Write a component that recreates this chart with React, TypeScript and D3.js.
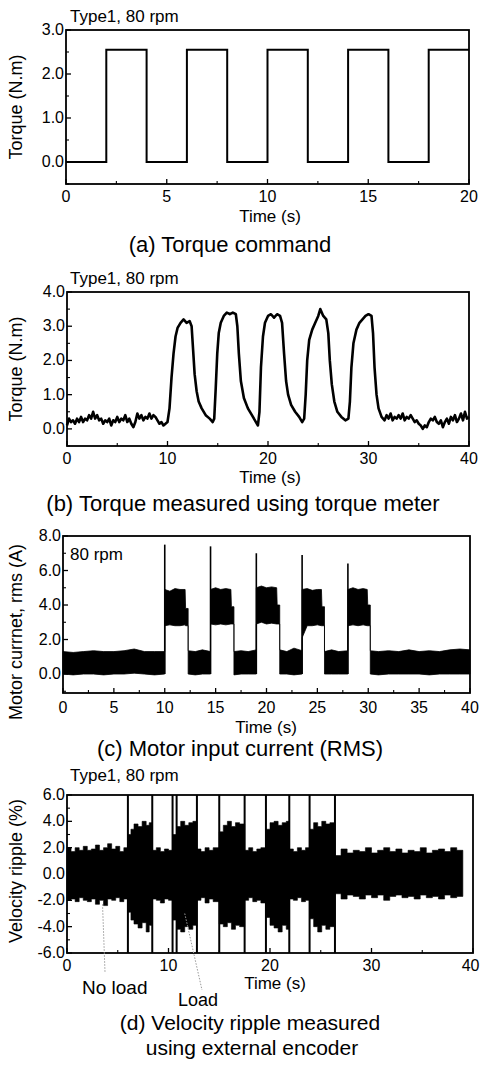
import React from "react";
import * as d3 from "d3";

const FONT = "'Liberation Sans', Arial, Helvetica, sans-serif";

// ---------- Panel (a): torque command ----------
const cmdTime = [0, 2, 4, 6, 8, 10, 12, 14, 16, 18, 20];
const cmdTorque = [0, 2.55, 0, 2.55, 0, 2.55, 0, 2.55, 0, 2.55, 2.55];

// ---------- Panel (b): torque measured ----------
const measTime = [
  0, 0.2, 0.4, 0.6, 0.8, 1.0, 1.2, 1.4, 1.6, 1.8, 2.0, 2.2, 2.4, 2.6, 2.8, 3.0, 3.2, 3.4, 3.6, 3.8, 4.0, 4.2, 4.4, 4.6, 4.8,
  5.0, 5.2, 5.4, 5.6, 5.8, 6.0, 6.2, 6.4, 6.6, 6.8, 7.0, 7.2, 7.4, 7.6, 7.8, 8.0, 8.2, 8.4, 8.6, 8.8, 9.0, 9.2, 9.4, 9.6, 9.8,
  10.0, 10.2, 10.4, 10.6, 10.8, 11.0, 11.3, 11.6, 11.9, 12.2, 12.4, 12.55, 12.7, 12.9, 13.1, 13.4, 13.8, 14.2, 14.5,
  14.65, 14.8, 14.95, 15.1, 15.3, 15.6, 15.9, 16.2, 16.5, 16.8, 16.95, 17.1, 17.3, 17.6, 18.0, 18.4, 18.8, 19.0,
  19.15, 19.3, 19.5, 19.7, 20.0, 20.3, 20.6, 20.9, 21.2, 21.4, 21.6, 21.8, 22.0, 22.3, 22.7, 23.1, 23.4,
  23.6, 23.75, 23.9, 24.1, 24.4, 24.7, 25.0, 25.2, 25.5, 25.8, 26.0, 26.15, 26.35, 26.6, 26.9, 27.3, 27.7,
  28.0, 28.15, 28.3, 28.5, 28.8, 29.1, 29.4, 29.7, 30.0, 30.3, 30.45, 30.6, 30.8, 31.0, 31.3,
  31.6, 31.8, 32.0, 32.2, 32.4, 32.6, 32.8, 33.0, 33.2, 33.4, 33.6, 33.8, 34.0, 34.2, 34.4, 34.6, 34.8, 35.0, 35.2, 35.4,
  35.6, 35.8, 36.0, 36.2, 36.4, 36.6, 36.8, 37.0, 37.2, 37.4, 37.6, 37.8, 38.0, 38.2, 38.4, 38.6, 38.8, 39.0, 39.2, 39.4, 39.6, 39.8, 40.0,
];
const measTorque = [
  0.1, 0.3, 0.2, 0.25, 0.15, 0.3, 0.2, 0.35, 0.2, 0.3, 0.25, 0.4, 0.3, 0.5, 0.3, 0.4, 0.25, 0.3, 0.15, 0.25, 0.2, 0.3, 0.1, 0.25, 0.2,
  0.35, 0.2, 0.3, 0.25, 0.4, 0.2, 0.3, 0.15, 0.05, 0.2, 0.45, 0.3, 0.4, 0.25, 0.35, 0.3, 0.45, 0.3, 0.4, 0.35, 0.25, 0.15, 0.2, 0.1, 0.15,
  0.2, 0.6, 1.5, 2.2, 2.7, 2.95, 3.1, 3.2, 3.1, 3.15, 3.0, 2.3, 1.6, 1.1, 0.8, 0.6, 0.4, 0.3, 0.2,
  0.3, 1.2, 2.2, 2.8, 3.1, 3.3, 3.4, 3.35, 3.4, 3.35, 3.0, 2.2, 1.4, 0.9, 0.6, 0.4, 0.2, 0.1,
  0.5, 1.8, 2.7, 3.1, 3.3, 3.35, 3.25, 3.35, 3.3, 3.1, 2.2, 1.4, 1.0, 0.7, 0.5, 0.35, 0.2,
  0.3, 1.0, 2.0, 2.6, 2.9, 3.1, 3.3, 3.5, 3.3, 3.2, 2.8, 2.0, 1.3, 0.8, 0.5, 0.35, 0.25,
  0.3, 0.8, 1.8, 2.5, 2.9, 3.1, 3.2, 3.3, 3.35, 3.3, 2.8, 1.8, 1.0, 0.6, 0.35,
  0.25, 0.4, 0.3, 0.45, 0.25, 0.35, 0.3, 0.4, 0.3, 0.45, 0.25, 0.35, 0.3, 0.4, 0.3, 0.2, 0.25, 0.15, 0.1, 0.0,
  0.1, 0.05, 0.2, 0.3, 0.25, 0.35, 0.2, 0.15, 0.25, 0.05, 0.2, 0.3, 0.15, 0.35, 0.25, 0.4, 0.2, 0.3, 0.45, 0.25, 0.5, 0.3, 0.35,
];

// ---------- Panel (c): motor current (RMS) envelope ----------
const curTime = [
  0, 1, 2, 3, 4, 5, 6, 7, 8, 9, 10,
  10, 10.5, 11, 11.5, 12.0, 12.05, 12.3,
  12.3, 13, 13.7, 14.5,
  14.5, 15, 15.5, 16, 16.5, 16.55, 16.8,
  16.8, 17.5, 18.2, 19.0,
  19.0, 19.5, 20, 20.5, 21.0, 21.05, 21.3,
  21.3, 22, 22.7, 23.5,
  23.5, 24, 24.5, 25, 25.4, 25.45, 25.7,
  25.7, 26.4, 27.1, 28.0,
  28.0, 28.5, 29, 29.5, 29.9, 29.95, 30.2,
  30.2, 31, 32, 33, 34, 35, 36, 37, 38, 39, 40,
];
const curUpper = [
  1.3, 1.25, 1.3, 1.35, 1.3, 1.3, 1.35, 1.45, 1.3, 1.3, 1.3,
  4.9, 4.8, 4.95, 4.9, 4.9, 3.8, 3.8,
  1.35, 1.3, 1.4, 1.3,
  4.9, 5.0, 4.9, 4.95, 4.9, 3.9, 3.9,
  1.3, 1.35, 1.3, 1.4,
  5.0, 5.1, 5.0, 5.05, 5.0, 4.0, 4.0,
  1.4, 1.3, 1.5, 1.35,
  4.9, 4.95, 4.85, 4.9, 4.9, 3.9, 3.9,
  1.3, 1.4, 1.3, 1.35,
  4.9, 5.0, 4.9, 4.95, 4.9, 4.0, 4.0,
  1.35, 1.3, 1.35, 1.3, 1.4, 1.3, 1.35, 1.3, 1.4, 1.45, 1.4,
];
const curLower = [
  0.0, -0.05, 0, 0, -0.05, 0, 0, 0.05, 0, -0.05, 0,
  2.8, 2.85, 2.8, 2.8, 2.85, 2.8, 2.8,
  0, -0.05, 0, 0,
  2.9, 2.85, 2.9, 2.85, 2.9, 2.9, 2.9,
  -0.05, 0, 0, 0,
  2.9, 3.0, 2.9, 2.95, 2.9, 2.9, 2.9,
  0, 0, -0.05, 0,
  2.1, 2.8, 2.8, 2.85, 2.8, 2.8, 2.8,
  0, 0, 0, 0,
  2.8, 2.85, 2.8, 2.85, 2.8, 2.8, 2.8,
  0, -0.05, 0, 0, 0, 0, -0.05, 0, 0, 0, 0,
];
const curSpikeTime = [10.0, 14.5, 19.0, 23.5, 28.0];
const curSpikePeak = [7.5, 7.4, 7.0, 6.9, 6.4];

// ---------- Panel (d): velocity ripple envelope ----------
const ripTime = [
  0, 0.4, 0.8, 1.2, 1.6, 2.0, 2.4, 2.8, 3.2, 3.6, 4.0, 4.4, 4.8, 5.2, 5.6, 6.0,
  6.0, 6.3, 6.6, 7.0, 7.4, 7.8, 8.1, 8.4,
  8.4, 8.8, 9.2, 9.6, 10.0, 10.4,
  10.4, 10.8, 11.2, 11.6, 12.0, 12.4, 12.8,
  12.8, 13.2, 13.6, 14.0, 14.4, 15.0,
  15.0, 15.4, 15.8, 16.2, 16.6, 17.0, 17.5,
  17.5, 17.9, 18.3, 18.7, 19.1, 19.6,
  19.6, 20.0, 20.4, 20.8, 21.2, 21.6, 21.9,
  21.9, 22.3, 22.7, 23.1, 23.5, 23.9,
  23.9, 24.3, 24.7, 25.1, 25.5, 25.9, 26.4,
  26.4, 27.0, 27.6, 28.2, 28.8, 29.4, 30.0, 30.6, 31.2, 31.8, 32.4, 33.0, 33.6, 34.2, 34.8, 35.4, 36.0, 36.6, 37.2, 37.8, 38.4, 39.0,
];
const ripUpper = [
  2.0, 1.7, 2.0, 1.8, 2.1, 1.8, 1.9, 2.2, 1.8, 2.0, 2.3, 1.9, 2.1, 1.7, 2.0, 1.9,
  3.0, 3.4, 3.8, 3.6, 4.0, 3.7, 3.9, 3.8,
  1.8, 2.0, 1.7, 1.9, 1.8, 1.9,
  3.0, 3.6, 4.0, 3.7, 3.9, 4.0, 3.9,
  1.9, 1.7, 2.0, 1.8, 2.0, 1.8,
  3.2, 3.7, 4.0, 3.6, 3.9, 3.8, 3.7,
  1.8, 2.0, 1.7, 1.9, 2.0, 1.8,
  3.4, 3.9, 4.0, 3.7, 3.9, 4.0, 3.8,
  1.9, 1.7, 2.0, 1.8, 2.0, 1.8,
  3.4, 3.9, 3.6, 4.0, 3.8, 3.9, 3.7,
  1.4, 1.9, 1.6, 1.8, 1.7, 2.0, 1.6, 1.8, 2.0, 1.7, 1.9, 1.6, 1.8, 1.7, 2.0, 1.6, 1.8, 1.9, 1.7, 2.0, 1.8, 1.1,
];
const ripLower = [
  -2.0, -1.9, -2.1, -1.8, -2.0, -2.1, -1.9, -2.3, -2.0, -2.4, -1.9, -2.0, -1.8, -2.1, -1.9, -2.0,
  -2.9, -3.5, -3.8, -4.1, -3.7, -4.4, -3.9, -3.8,
  -1.9, -2.0, -2.2, -1.9, -2.0, -2.0,
  -3.5, -4.2, -4.4, -4.0, -4.2, -3.9, -4.0,
  -2.0, -1.8, -2.2, -1.9, -2.1, -2.0,
  -3.8, -4.0, -3.7, -4.2, -3.9, -4.0, -3.8,
  -2.0, -1.8, -2.1, -2.0, -2.2, -2.0,
  -3.3, -3.9, -4.1, -4.4, -3.9, -4.2, -4.0,
  -1.9, -2.0, -1.8, -2.1, -2.0, -1.9,
  -3.4, -4.0, -4.4, -3.9, -4.2, -4.0, -3.8,
  -1.5, -1.9, -1.6, -1.7, -1.9, -1.6, -1.8, -1.6, -2.0, -1.7, -1.6, -1.8, -1.7, -1.9, -1.6, -1.8, -1.7, -1.9, -1.6, -1.8, -1.7, -1.0,
];
const ripEdgeTime = [6.0, 8.4, 10.4, 10.8, 12.8, 15.0, 17.5, 19.6, 21.9, 23.9, 26.4];

// ---------- tick definitions ----------
const aXTicks = [0, 5, 10, 15, 20];
const aYTicks = [0, 1, 2, 3];
const bXTicks = [0, 10, 20, 30, 40];
const bYTicks = [0, 1, 2, 3, 4];
const cXTicks = [0, 5, 10, 15, 20, 25, 30, 35, 40];
const cYTicks = [0, 2, 4, 6, 8];
const dXTicks = [0, 10, 20, 30, 40];
const dYTicks = [-6, -4, -2, 0, 2, 4, 6];

const TICK_FS = 16;
const AXIS_FS = 17;
const YLAB_FS = 18;
const CAP_FS = 22;
const NOTE_FS = 17;
const W = 480;

type Frame = {
  x: d3.ScaleLinear<number, number>;
  y: d3.ScaleLinear<number, number>;
  xTicks: number[];
  xMinor: number[];
  yTicks: number[];
  yMinor: number[];
  yFmt: (v: number) => string;
  xLabelY: number;
};

function Axes({ f }: { f: Frame }) {
  const [x0, x1] = f.x.range();
  const [y0, y1] = f.y.range(); // y0 bottom, y1 top
  return (
    <g>
      {f.xTicks.map((t) => (
        <line key={"xt" + t} x1={f.x(t)} x2={f.x(t)} y1={y0} y2={y0 - 5} stroke="#000" strokeWidth={1.3} />
      ))}
      {f.xMinor.map((t) => (
        <line key={"xm" + t} x1={f.x(t)} x2={f.x(t)} y1={y0} y2={y0 - 3} stroke="#000" strokeWidth={1.1} />
      ))}
      {f.yTicks.map((t) => (
        <line key={"yt" + t} x1={x0} x2={x0 + 5} y1={f.y(t)} y2={f.y(t)} stroke="#000" strokeWidth={1.3} />
      ))}
      {f.yMinor.map((t) => (
        <line key={"ym" + t} x1={x0} x2={x0 + 3} y1={f.y(t)} y2={f.y(t)} stroke="#000" strokeWidth={1.1} />
      ))}
      <rect x={x0} y={y1} width={x1 - x0} height={y0 - y1} fill="none" stroke="#000" strokeWidth={1.8} />
      {f.xTicks.map((t) => {
        const px = f.x(t);
        const atEdge = px + 10 > W;
        return (
          <text
            key={"xl" + t}
            x={atEdge ? W - 0.5 : px}
            y={f.xLabelY}
            textAnchor={atEdge ? "end" : "middle"}
            fontSize={TICK_FS}
            fontFamily={FONT}
          >
            {t}
          </text>
        );
      })}
      {f.yTicks.map((t) => (
        <text key={"yl" + t} x={x0 - 2} y={f.y(t) + 5} textAnchor="end" fontSize={TICK_FS} fontFamily={FONT}>
          {f.yFmt(t)}
        </text>
      ))}
    </g>
  );
}

const fmt1 = (v: number) => v.toFixed(1);
const range = (a: number, b: number, s: number) => d3.range(a, b + 1e-9, s);

export default function App() {
  // (a)
  const ax = d3.scaleLinear().domain([0, 20]).range([66, 469]);
  const ay = d3.scaleLinear().domain([-0.5, 3.0]).range([184, 30]);
  const aFrame: Frame = {
    x: ax, y: ay, xTicks: aXTicks, xMinor: range(2.5, 17.5, 5), yTicks: aYTicks, yMinor: range(-0.5, 2.5, 1), yFmt: fmt1, xLabelY: 202,
  };
  const aLine = d3.line<number>().x((_, i) => ax(cmdTime[i])).y((v) => ay(v)).curve(d3.curveStepAfter)(cmdTorque) || "";

  // (b)
  const bx = d3.scaleLinear().domain([0, 40]).range([67, 469]);
  const by = d3.scaleLinear().domain([-0.5, 4.0]).range([446, 292]);
  const bFrame: Frame = {
    x: bx, y: by, xTicks: bXTicks, xMinor: range(5, 35, 10), yTicks: bYTicks, yMinor: range(-0.5, 3.5, 1), yFmt: fmt1, xLabelY: 464,
  };
  const bLine = d3.line<number>().x((_, i) => bx(measTime[i])).y((v) => by(v))(measTorque) || "";

  // (c)
  const cx = d3.scaleLinear().domain([0, 40]).range([63, 470]);
  const cy = d3.scaleLinear().domain([-1.1, 8.0]).range([693, 536]);
  const cFrame: Frame = {
    x: cx, y: cy, xTicks: cXTicks, xMinor: range(2.5, 37.5, 5), yTicks: cYTicks, yMinor: range(-1, 7, 2), yFmt: fmt1, xLabelY: 713,
  };
  const cArea = d3.area<number>().x((_, i) => cx(curTime[i])).y0((_, i) => cy(curLower[i])).y1((v) => cy(v))(curUpper) || "";

  // (d)
  const dx = d3.scaleLinear().domain([0, 40]).range([67, 473]);
  const dy = d3.scaleLinear().domain([-6, 6]).range([953, 795]);
  const dFrame: Frame = {
    x: dx, y: dy, xTicks: dXTicks, xMinor: range(5, 35, 10), yTicks: dYTicks, yMinor: range(-5, 5, 2), yFmt: fmt1, xLabelY: 971,
  };
  const dArea = d3.area<number>().x((_, i) => dx(ripTime[i])).y0((_, i) => dy(ripLower[i])).y1((v) => dy(v)).curve(d3.curveStepAfter)(ripUpper) || "";

  const txt = (x: number, y: number, s: string, size: number, anchor = "start", rot = false) => (
    <text
      x={rot ? 0 : x}
      y={rot ? 0 : y}
      transform={rot ? `translate(${x},${y}) rotate(-90)` : undefined}
      textAnchor={anchor}
      fontSize={size}
      fontFamily={FONT}
    >
      {s}
    </text>
  );

  return (
    <svg width={480} height={1069} style={{ position: "absolute", left: 0, top: 0, background: "#fff" }}>
      <rect width={480} height={1069} fill="#fff" />
      {/* (a) */}
      {txt(70, 22, "Type1, 80 rpm", NOTE_FS)}
      <path d={aLine} fill="none" stroke="#000" strokeWidth={2} />
      <Axes f={aFrame} />
      {txt(22, 107, "Torque (N.m)", YLAB_FS, "middle", true)}
      {txt(270, 222, "Time (s)", AXIS_FS, "middle")}
      {txt(230, 252, "(a) Torque command", CAP_FS, "middle")}

      {/* (b) */}
      {txt(70, 284, "Type1, 80 rpm", NOTE_FS)}
      <path d={bLine} fill="none" stroke="#000" strokeWidth={2.6} strokeLinejoin="round" />
      <Axes f={bFrame} />
      {txt(22, 369, "Torque (N.m)", YLAB_FS, "middle", true)}
      {txt(270, 483, "Time (s)", AXIS_FS, "middle")}
      {txt(243, 511, "(b) Torque measured using torque meter", CAP_FS, "middle")}

      {/* (c) */}
      <path d={cArea} fill="#000" stroke="#000" strokeWidth={0.8} />
      {curSpikeTime.map((t, i) => (
        <line key={"cs" + i} x1={cx(t)} x2={cx(t)} y1={cy(0)} y2={cy(curSpikePeak[i])} stroke="#000" strokeWidth={1.6} />
      ))}
      <Axes f={cFrame} />
      {txt(70, 560, "80 rpm", NOTE_FS)}
      {txt(22, 632, "Motor currnet, rms (A)", YLAB_FS, "middle", true)}
      {txt(266, 733, "Time (s)", AXIS_FS, "middle")}
      {txt(240, 756, "(c) Motor input current (RMS)", CAP_FS, "middle")}

      {/* (d) */}
      {txt(70, 781, "Type1, 80 rpm", NOTE_FS)}
      <path d={dArea} fill="#000" stroke="#000" strokeWidth={0.6} />
      {ripEdgeTime.map((t, i) => (
        <line key={"de" + i} x1={dx(t)} x2={dx(t)} y1={dy(-6)} y2={dy(6)} stroke="#000" strokeWidth={2} />
      ))}
      <Axes f={dFrame} />
      {txt(22, 871, "Velocity ripple (%)", YLAB_FS, "middle", true)}
      <line x1={dx(3.5)} y1={dy(-2.3)} x2={105} y2={972} stroke="#999" strokeWidth={1} strokeDasharray="1.5,1.5" />
      <line x1={dx(11.6)} y1={dy(-3.0)} x2={202} y2={990} stroke="#999" strokeWidth={1} strokeDasharray="1.5,1.5" />
      {txt(82, 994, "No load", 19)}
      {txt(178, 1006, "Load", 18)}
      {txt(275, 989, "Time (s)", AXIS_FS, "middle")}
      {txt(250, 1030, "(d) Velocity ripple measured", 21, "middle")}
      {txt(252, 1055, "using external encoder", 21, "middle")}
    </svg>
  );
}
